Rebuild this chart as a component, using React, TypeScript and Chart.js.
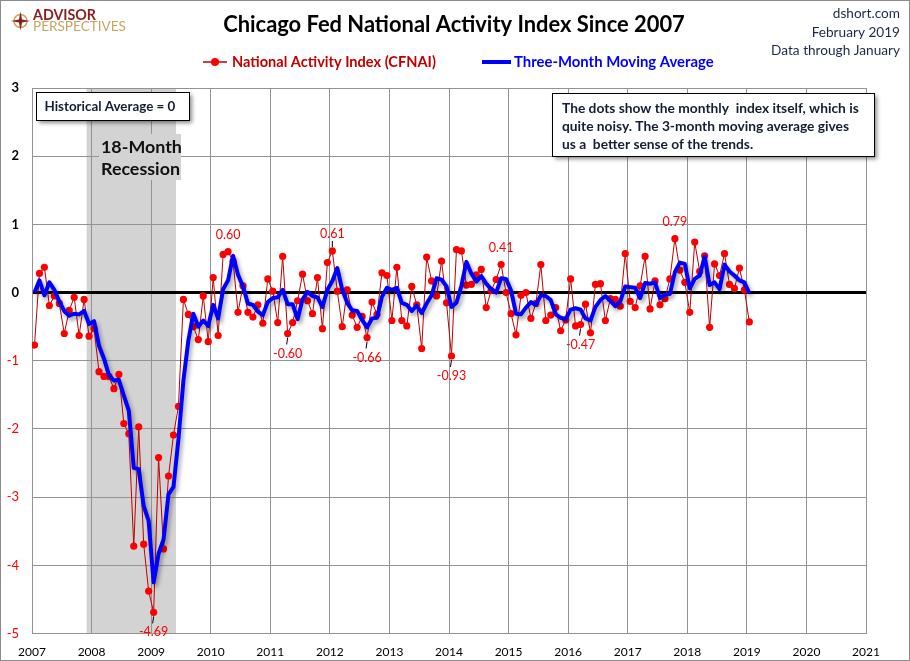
import { useEffect, useRef } from "react";
import { Chart, registerables } from "chart.js";

Chart.register(...registerables);

// ---------------- data ----------------
const startYear = 2007;
const xMin = 2007;
const xMax = 2021;
const yMin = -5;
const yMax = 3;

// Monthly CFNAI, Jan 2007 .. Jan 2019
const cfnai = [
  // 2007
  -0.77, 0.28, 0.37, -0.19, -0.05, -0.16, -0.6, -0.26, -0.07, -0.63, -0.1, -0.64,
  // 2008
  -0.53, -1.16, -1.23, -1.23, -1.41, -1.2, -1.92, -2.07, -3.72, -1.97, -3.69, -4.38,
  // 2009
  -4.69, -2.42, -3.76, -2.69, -2.09, -1.67, -0.1, -0.32, -0.5, -0.69, -0.05, -0.72,
  // 2010
  0.22, -0.63, 0.56, 0.6, 0.46, -0.29, 0.1, -0.29, -0.36, -0.18, -0.45, 0.2,
  // 2011
  0.02, -0.44, 0.53, -0.6, -0.44, -0.12, 0.27, -0.12, -0.31, 0.22, -0.53, 0.44,
  // 2012
  0.61, 0.02, -0.5, 0.04, -0.33, -0.51, -0.35, -0.66, -0.14, -0.32, 0.29, 0.25,
  // 2013
  -0.41, 0.37, -0.41, -0.49, 0.09, -0.18, -0.82, 0.52, 0.17, -0.05, 0.46, -0.15,
  // 2014
  -0.93, 0.63, 0.61, 0.11, 0.12, 0.26, 0.34, -0.22, 0.03, 0.19, 0.41, 0.0,
  // 2015
  -0.31, -0.62, -0.04, 0.0, -0.38, -0.16, 0.41, -0.41, -0.33, -0.22, -0.56, -0.4,
  // 2016
  0.2, -0.49, -0.47, -0.17, -0.59, 0.12, 0.13, -0.41, -0.09, -0.1, -0.2, 0.57,
  // 2017
  -0.13, -0.22, 0.1, 0.53, -0.24, 0.17, -0.18, -0.09, 0.2, 0.79, 0.33, 0.15,
  // 2018
  -0.29, 0.74, 0.31, 0.54, -0.51, 0.42, 0.25, 0.57, 0.12, 0.06, 0.36, 0.04,
  // 2019
  -0.43,
];

// Three-month moving average, Jan 2007 .. Jan 2019
const movingAverage = [
  // 2007
  0.0, 0.18, -0.04, 0.15, 0.04, -0.13, -0.27, -0.34, -0.31, -0.32, -0.27, -0.46,
  // 2008
  -0.42, -0.78, -0.97, -1.21, -1.29, -1.28, -1.51, -1.73, -2.57, -2.59, -3.13, -3.35,
  // 2009
  -4.25, -3.83, -3.62, -2.96, -2.85, -2.15, -1.29, -0.7, -0.31, -0.5, -0.41, -0.49,
  // 2010
  -0.18, -0.38, 0.05, 0.18, 0.54, 0.26, 0.09, -0.16, -0.18, -0.28, -0.33, -0.14,
  // 2011
  -0.08, -0.07, 0.04, -0.17, -0.17, -0.39, -0.1, 0.01, -0.05, -0.07, -0.21, 0.04,
  // 2012
  0.17, 0.36, 0.04, -0.15, -0.26, -0.27, -0.4, -0.51, -0.38, -0.37, -0.06, 0.07,
  // 2013
  0.04, 0.07, -0.15, -0.18, -0.27, -0.19, -0.3, -0.16, -0.04, 0.21, 0.19, 0.09,
  // 2014
  -0.21, -0.15, 0.1, 0.45, 0.28, 0.16, 0.24, 0.13, 0.05, 0.0, 0.21, 0.2,
  // 2015
  0.03, -0.31, -0.32, -0.22, -0.14, -0.18, -0.04, -0.05, -0.11, -0.32, -0.37, -0.39,
  // 2016
  -0.25, -0.23, -0.25, -0.38, -0.41, -0.21, -0.11, -0.05, -0.12, -0.2, -0.13, 0.09,
  // 2017
  0.08, 0.07, -0.08, 0.14, 0.13, 0.15, -0.08, -0.03, -0.02, 0.3, 0.44, 0.42,
  // 2018
  0.06, 0.2, 0.25, 0.53, 0.11, 0.15, 0.05, 0.41, 0.31, 0.25, 0.18, 0.15,
  // 2019
  -0.01,
];

// recession: Dec 2007 .. Jun 2009
const recessionStart = 2007 + 11 / 12;
const recessionEnd = 2009 + 5 / 12;

// labelled points (month index), and whether label sits below, and has a leader line
const labelIndex = [24, 39, 51, 60, 67, 84, 94, 110, 129];
const labelBelow = [true, false, true, false, true, true, false, true, false];
const labelLeader = [true, false, true, true, true, true, false, true, false];

const titleText = "Chicago Fed National Activity Index Since 2007";
const headerLines = ["dshort.com", "February 2019", "Data through January"];
const legendLabels = ["National Activity Index (CFNAI)", "Three-Month Moving Average"];
const historicalText = "Historical Average = 0";
const recessionLines = ["18-Month", "Recession"];
const noteLines = [
  "The dots show the monthly  index itself, which is",
  "quite noisy. The 3-month moving average gives",
  "us a  better sense of the trends.",
];

// month positions on the year axis (mid-month)
const monthX = cfnai.map((_, i) => startYear + (i + 0.5) / 12);

// ---------------- styling ----------------
const FAMILY = "Lato, 'Open Sans', 'DejaVu Sans', sans-serif";
const GRID = "#939393";
const RED_LINE = "#c00000";
const RED_DOT = "#ff0000";
const BLUE = "#0000ff";
const NAVY = "#1c2a48";

function fitSize(ctx: CanvasRenderingContext2D, text: string, weight: string, target: number) {
  ctx.font = `${weight} 20px ${FAMILY}`;
  const w = ctx.measureText(text).width;
  return (20 * target) / w;
}

function shadowBox(ctx: CanvasRenderingContext2D, x: number, y: number, w: number, h: number, fill: string) {
  ctx.save();
  ctx.shadowColor = "rgba(0,0,0,0.45)";
  ctx.shadowBlur = 4;
  ctx.shadowOffsetX = 3;
  ctx.shadowOffsetY = 3;
  ctx.fillStyle = fill;
  ctx.fillRect(x, y, w, h);
  ctx.restore();
  ctx.save();
  ctx.strokeStyle = "#000";
  ctx.lineWidth = 1;
  ctx.strokeRect(Math.round(x) + 0.5, Math.round(y) + 0.5, Math.round(w), Math.round(h));
  ctx.restore();
}

const decorPlugin = {
  id: "decor",
  beforeDraw(chart: any) {
    const { ctx, chartArea: a, scales } = chart;
    ctx.save();
    ctx.fillStyle = "#fff";
    ctx.fillRect(0, 0, chart.width, chart.height);
    const x0 = scales.x.getPixelForValue(recessionStart);
    const x1 = scales.x.getPixelForValue(recessionEnd);
    ctx.fillStyle = "#d3d3d3";
    ctx.fillRect(x0, a.top, x1 - x0, a.bottom - a.top);
    ctx.restore();
  },
  beforeDatasetDraw(chart: any, args: any) {
    if (args.index === 1) {
      const ctx = chart.ctx;
      ctx.save();
      ctx.shadowColor = "rgba(0,0,0,0.38)";
      ctx.shadowBlur = 4;
      ctx.shadowOffsetX = 2;
      ctx.shadowOffsetY = 3;
    }
  },
  afterDatasetDraw(chart: any, args: any) {
    if (args.index === 1) chart.ctx.restore();
  },
  afterDraw(chart: any) {
    const { ctx, scales } = chart;
    ctx.save();
    ctx.textBaseline = "middle";

    // recession label
    const rs = fitSize(ctx, recessionLines[1], "bold", 79);
    ctx.fillStyle = "#d3d3d3";
    ctx.fillRect(99, 134, 82, 46);
    ctx.fillStyle = "#111";
    ctx.font = `bold ${rs}px ${FAMILY}`;
    ctx.textAlign = "left";
    ctx.fillText(recessionLines[0], 101, 147);
    ctx.fillText(recessionLines[1], 101, 169);

    // historical average box
    shadowBox(ctx, 36, 92, 153, 28, "#fff");
    const hs = fitSize(ctx, historicalText, "bold", 131);
    ctx.font = `bold ${hs}px ${FAMILY}`;
    ctx.fillStyle = "#141e32";
    ctx.fillText(historicalText, 44.5, 106.5);

    // note box
    shadowBox(ctx, 552, 93, 322, 63, "#fff");
    const ns = fitSize(ctx, noteLines[0], "bold", 297);
    ctx.font = `bold ${ns}px ${FAMILY}`;
    ctx.fillStyle = "#141e32";
    const noteY = [108.5, 126.5, 144.5];
    noteLines.forEach((t, i) => ctx.fillText(t, 562, noteY[i]));

    // data labels
    ctx.font = `12.5px ${FAMILY}`;
    ctx.textAlign = "center";
    labelIndex.forEach((idx, k) => {
      const px = scales.x.getPixelForValue(monthX[idx]);
      const py = scales.y.getPixelForValue(cfnai[idx]);
      const below = labelBelow[k];
      const ly = below ? py + 20 : py - 17;
      if (labelLeader[k]) {
        ctx.strokeStyle = "#000";
        ctx.lineWidth = 1;
        ctx.beginPath();
        if (below) {
          ctx.moveTo(px, py + 4);
          ctx.lineTo(px - 1, py + 11);
        } else {
          ctx.moveTo(px, py - 4);
          ctx.lineTo(px, py - 10);
        }
        ctx.stroke();
      }
      ctx.fillStyle = RED_DOT;
      ctx.fillText(cfnai[idx].toFixed(2), px, ly);
    });

    // title
    const ts = fitSize(ctx, titleText, "bold", 462);
    ctx.font = `bold ${ts}px ${FAMILY}`;
    ctx.fillStyle = "#000";
    ctx.textAlign = "center";
    ctx.fillText(titleText, 454, 25);

    // header, right side
    const hsz = fitSize(ctx, headerLines[2], "normal", 129);
    ctx.font = `${hsz}px ${FAMILY}`;
    ctx.fillStyle = NAVY;
    ctx.textAlign = "right";
    const headY = [14, 32.5, 50.5];
    headerLines.forEach((t, i) => ctx.fillText(t, 900, headY[i]));

    // legend
    const ly = 62;
    ctx.strokeStyle = RED_LINE;
    ctx.lineWidth = 1.5;
    ctx.beginPath();
    ctx.moveTo(203, ly);
    ctx.lineTo(227, ly);
    ctx.stroke();
    ctx.fillStyle = RED_DOT;
    ctx.beginPath();
    ctx.arc(215, ly, 4, 0, Math.PI * 2);
    ctx.fill();
    const l1 = fitSize(ctx, legendLabels[0], "bold", 204);
    ctx.font = `bold ${l1}px ${FAMILY}`;
    ctx.fillStyle = RED_LINE;
    ctx.textAlign = "left";
    ctx.fillText(legendLabels[0], 232, ly);

    ctx.strokeStyle = BLUE;
    ctx.lineWidth = 4;
    ctx.beginPath();
    ctx.moveTo(482, ly);
    ctx.lineTo(511, ly);
    ctx.stroke();
    const l2 = fitSize(ctx, legendLabels[1], "bold", 200);
    ctx.font = `bold ${l2}px ${FAMILY}`;
    ctx.fillStyle = BLUE;
    ctx.fillText(legendLabels[1], 514, ly);

    // logo
    ctx.save();
    ctx.translate(20.5, 21);
    ctx.strokeStyle = "#c9a55c";
    ctx.lineWidth = 1.5;
    ctx.beginPath();
    ctx.arc(0, 0, 6.5, 0, Math.PI * 2);
    ctx.stroke();
    ctx.fillStyle = "#8b1e1e";
    ctx.beginPath();
    for (let i = 0; i < 8; i++) {
      const r = i % 2 === 0 ? 9.5 : 2.2;
      const ang = (i * Math.PI) / 4 - Math.PI / 2;
      const px = Math.cos(ang) * r;
      const py = Math.sin(ang) * r;
      if (i === 0) ctx.moveTo(px, py);
      else ctx.lineTo(px, py);
    }
    ctx.closePath();
    ctx.fill();
    ctx.restore();
    const a1 = fitSize(ctx, "ADVISOR", "bold", 63);
    ctx.font = `bold ${a1}px ${FAMILY}`;
    ctx.fillStyle = "#8b1e1e";
    ctx.textAlign = "left";
    ctx.fillText("ADVISOR", 33, 15.5);
    const a2 = fitSize(ctx, "PERSPECTIVES", "normal", 93);
    ctx.font = `${a2}px ${FAMILY}`;
    ctx.fillStyle = "#c9a55c";
    ctx.fillText("PERSPECTIVES", 33, 26.5);

    // outer border
    ctx.strokeStyle = "#8c8c8c";
    ctx.lineWidth = 1;
    ctx.strokeRect(0.5, 0.5, chart.width - 1, chart.height - 1);
    ctx.restore();
  },
};

export default function App() {
  const canvasRef = useRef<HTMLCanvasElement | null>(null);

  useEffect(() => {
    document.body.style.margin = "0";
    const canvas = canvasRef.current;
    if (!canvas) return;
    const chart = new Chart(canvas, {
      type: "line",
      data: {
        datasets: [
          {
            label: legendLabels[0],
            data: cfnai.map((v, i) => ({ x: monthX[i], y: v })),
            borderColor: RED_LINE,
            borderWidth: 1,
            pointRadius: 3.6,
            pointBackgroundColor: RED_DOT,
            pointBorderWidth: 0,
            pointBorderColor: RED_DOT,
            tension: 0,
            order: 1,
          },
          {
            label: legendLabels[1],
            data: movingAverage.map((v, i) => ({ x: monthX[i], y: v })),
            borderColor: BLUE,
            borderWidth: 4,
            pointRadius: 0,
            tension: 0,
            borderJoinStyle: "round",
            order: 0,
          },
        ],
      },
      options: {
        animation: false,
        responsive: false,
        devicePixelRatio: 1,
        layout: { padding: { top: 88, right: 44, left: 0, bottom: 0 } },
        plugins: {
          legend: { display: false },
          title: { display: false },
          tooltip: { enabled: false },
        },
        events: [],
        scales: {
          x: {
            type: "linear",
            min: xMin,
            max: xMax,
            afterFit: (scale: any) => {
              scale.height = 27.5;
            },
            ticks: {
              stepSize: 1,
              autoSkip: false,
              maxRotation: 0,
              padding: 11,
              color: "#000",
              font: { family: FAMILY, size: 12 },
              callback: (v: any) => String(v),
            },
            grid: { color: GRID, lineWidth: 1, drawTicks: false },
            border: { color: GRID, width: 1 },
          },
          y: {
            type: "linear",
            min: yMin,
            max: yMax,
            afterFit: (scale: any) => {
              scale.width = 32;
            },
            ticks: {
              stepSize: 1,
              padding: 13,
              color: (c: any) => (c.tick && c.tick.value < 0 ? "#ff0000" : "#000"),
              font: (c: any) => ({
                family: FAMILY,
                size: 13,
                weight: c.tick && c.tick.value < 0 ? "normal" : "bold",
              }),
              callback: (v: any) => String(v),
            },
            grid: {
              color: (c: any) => (c.tick && c.tick.value === 0 ? "#000" : GRID),
              lineWidth: (c: any) => (c.tick && c.tick.value === 0 ? 3 : 1),
              drawTicks: false,
            },
            border: { color: GRID, width: 1 },
          },
        },
      } as any,
      plugins: [decorPlugin],
    });
    return () => chart.destroy();
  }, []);

  return (
    <div style={{ width: 910, height: 661, overflow: "hidden" }}>
      <canvas ref={canvasRef} width={910} height={661} style={{ display: "block" }} />
    </div>
  );
}
